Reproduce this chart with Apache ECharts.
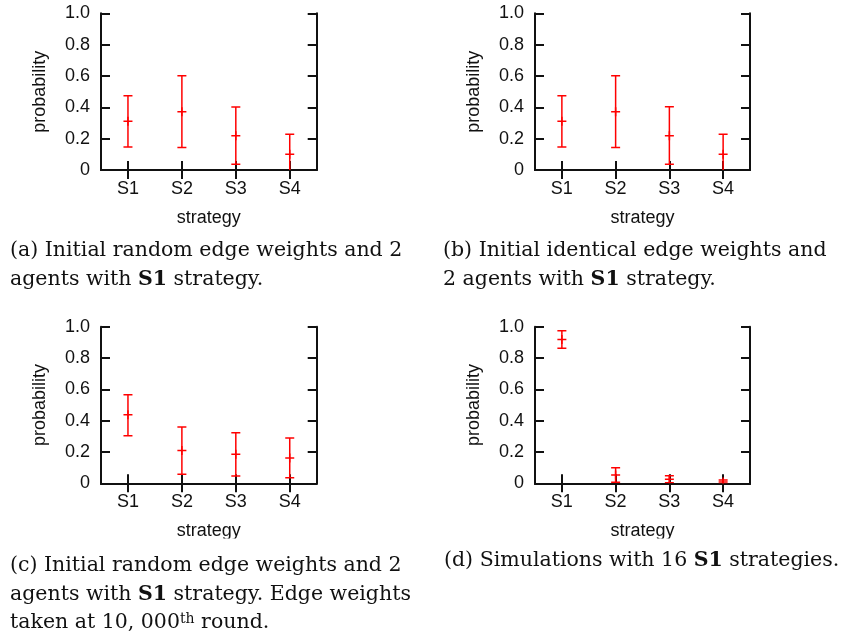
<!DOCTYPE html>
<html>
<head>
<meta charset="utf-8">
<script src="https://cdn.jsdelivr.net/npm/echarts@6/dist/echarts.min.js"></script>
<style>
html,body{margin:0;padding:0;background:#fff;}
#chart{width:847px;height:636px;}
</style>
</head>
<body>
<div id="chart"></div>
<script>
// ---- data ----
const categories = ['S1', 'S2', 'S3', 'S4'];
const yTickLabels = ['0', '0.2', '0.4', '0.6', '0.8', '1.0'];

// (a) initial random edge weights, 2 agents S1
const meanA = [0.311, 0.372, 0.219, 0.100];
const lowA  = [0.147, 0.143, 0.036, -0.028];
const highA = [0.474, 0.602, 0.402, 0.228];
// (b) initial identical edge weights, 2 agents S1
const meanB = [0.311, 0.372, 0.219, 0.100];
const lowB  = [0.147, 0.143, 0.036, -0.028];
const highB = [0.474, 0.602, 0.404, 0.228];
// (c) random edge weights, at 10,000th round
const meanC = [0.438, 0.209, 0.185, 0.162];
const lowC  = [0.304, 0.057, 0.047, 0.036];
const highC = [0.566, 0.360, 0.323, 0.289];
// (d) 16 S1 strategies
const meanD = [0.919, 0.053, 0.026, 0.009];
const lowD  = [0.862, 0.006, 0.004, -0.004];
const highD = [0.974, 0.100, 0.048, 0.021];

const axisName = 'strategy';
const yName = 'probability';

// ---- layout ----
const panels = [
  {mean: meanA, low: lowA, high: highA, left: 101, top: 13.3, width: 215.7, height: 156.7},
  {mean: meanB, low: lowB, high: highB, left: 535, top: 13.3, width: 215, height: 156.7},
  {mean: meanC, low: lowC, high: highC, left: 101, top: 326.7, width: 215.7, height: 156.6},
  {mean: meanD, low: lowD, high: highD, left: 535, top: 326.7, width: 215, height: 156.6}
];

const sansFont = 'Liberation Sans, Arial, sans-serif';
const serifFont = 'DejaVu Serif, serif';
const lineCol = '#111';
const grids = [], xAxes = [], yAxes = [], series = [];

function renderErr(params, api) {
  const x = api.value(0), m = api.value(1), lo = api.value(2), hi = api.value(3);
  const pm = api.coord([x, m]), pl = api.coord([x, lo]), ph = api.coord([x, hi]);
  const hw = 4.5;
  const st = {stroke: '#ff0000', lineWidth: 1.5, fill: null};
  const cx = pm[0];
  return {type: 'group', children: [
    {type: 'line', shape: {x1: cx, y1: pl[1], x2: cx, y2: ph[1]}, style: st},
    {type: 'line', shape: {x1: cx - hw, y1: pl[1], x2: cx + hw, y2: pl[1]}, style: st},
    {type: 'line', shape: {x1: cx - hw, y1: ph[1], x2: cx + hw, y2: ph[1]}, style: st},
    {type: 'line', shape: {x1: cx - hw, y1: pm[1], x2: cx + hw, y2: pm[1]}, style: st},
    {type: 'line', shape: {x1: cx, y1: pm[1] - hw, x2: cx, y2: pm[1] + hw}, style: st}
  ]};
}

panels.forEach((p, i) => {
  grids.push({left: p.left, top: p.top, width: p.width, height: p.height, containLabel: false});
  const tick = {show: true, inside: true, length: 9, alignWithLabel: true, lineStyle: {color: lineCol, width: 2}};
  const aline = {show: true, lineStyle: {color: lineCol, width: 2}};
  xAxes.push({
    type: 'category', gridIndex: i, data: categories, position: 'bottom',
    boundaryGap: true, axisLine: aline, axisTick: tick,
    axisLabel: {margin: 10, fontSize: 18, fontFamily: sansFont, color: '#111'},
    name: axisName, nameLocation: 'middle', nameGap: 39,
    nameTextStyle: {fontSize: 18, fontFamily: sansFont, color: '#111'},
    splitLine: {show: false}
  });
  xAxes.push({
    type: 'category', gridIndex: i, data: categories, position: 'top',
    boundaryGap: true, axisLine: aline, axisTick: tick,
    axisLabel: {show: false}, splitLine: {show: false}
  });
  const ytick = {show: true, inside: true, length: 9, lineStyle: {color: lineCol, width: 2}};
  yAxes.push({
    type: 'value', gridIndex: i, min: 0, max: 1, interval: 0.2, position: 'left',
    axisLine: aline, axisTick: ytick,
    axisLabel: {margin: 11, fontSize: 18, fontFamily: sansFont, color: '#111',
      formatter: (v) => yTickLabels[Math.round(v / 0.2)]},
    name: yName, nameLocation: 'middle', nameGap: 52, nameRotate: 90,
    nameTextStyle: {fontSize: 18, fontFamily: sansFont, color: '#111'},
    splitLine: {show: false}
  });
  yAxes.push({
    type: 'value', gridIndex: i, min: 0, max: 1, interval: 0.2, position: 'right',
    axisLine: aline, axisTick: ytick, axisLabel: {show: false}, splitLine: {show: false}
  });
  const data = categories.map((c, k) => [k, p.mean[k], p.low[k], p.high[k]]);
  series.push({
    type: 'custom', xAxisIndex: 2 * i, yAxisIndex: 2 * i, clip: true,
    renderItem: renderErr, data: data, encode: {x: 0, y: [1, 2, 3]}, z: 1
  });
});

// ---- captions ----
const captionLines = [
  {x: 10, y: 251, text: '(a) Initial random edge weights and 2'},
  {x: 10, y: 279.6, text: 'agents with {b|S1} strategy.'},
  {x: 443, y: 251, text: '(b) Initial identical edge weights and'},
  {x: 443, y: 279.6, text: '2 agents with {b|S1} strategy.'},
  {x: 10, y: 566, text: '(c) Initial random edge weights and 2'},
  {x: 10, y: 595, text: 'agents with {b|S1} strategy. Edge weights'},
  {x: 10, y: 622.6, text: 'taken at 10, 000{sup|th} round.'},
  {x: 444, y: 560.3, text: '(d) Simulations with 16 {b|S1} strategies.'}
];

const capSize = 20.5;
const graphics = [
  {type: 'rect', z: 100, shape: {x: 0, y: 538.5, width: 847, height: 8}, style: {fill: '#fff'}}
];
captionLines.forEach(c => {
  graphics.push({
    type: 'text', z: 101, x: c.x, y: c.y,
    style: {
      text: c.text, fontFamily: serifFont, fontSize: capSize, fill: '#111',
      align: 'left', verticalAlign: 'middle',
      rich: {
        b: {fontWeight: 'bold', fontFamily: serifFont, fontSize: capSize, fill: '#111'},
        sup: {fontFamily: serifFont, fontSize: 14, fill: '#111', verticalAlign: 'top'}
      }
    }
  });
});

const chart = echarts.init(document.getElementById('chart'), null, {renderer: 'canvas'});
chart.setOption({
  backgroundColor: '#fff',
  animation: false,
  grid: grids,
  xAxis: xAxes,
  yAxis: yAxes,
  series: series,
  graphic: graphics
});
</script>
</body>
</html>
